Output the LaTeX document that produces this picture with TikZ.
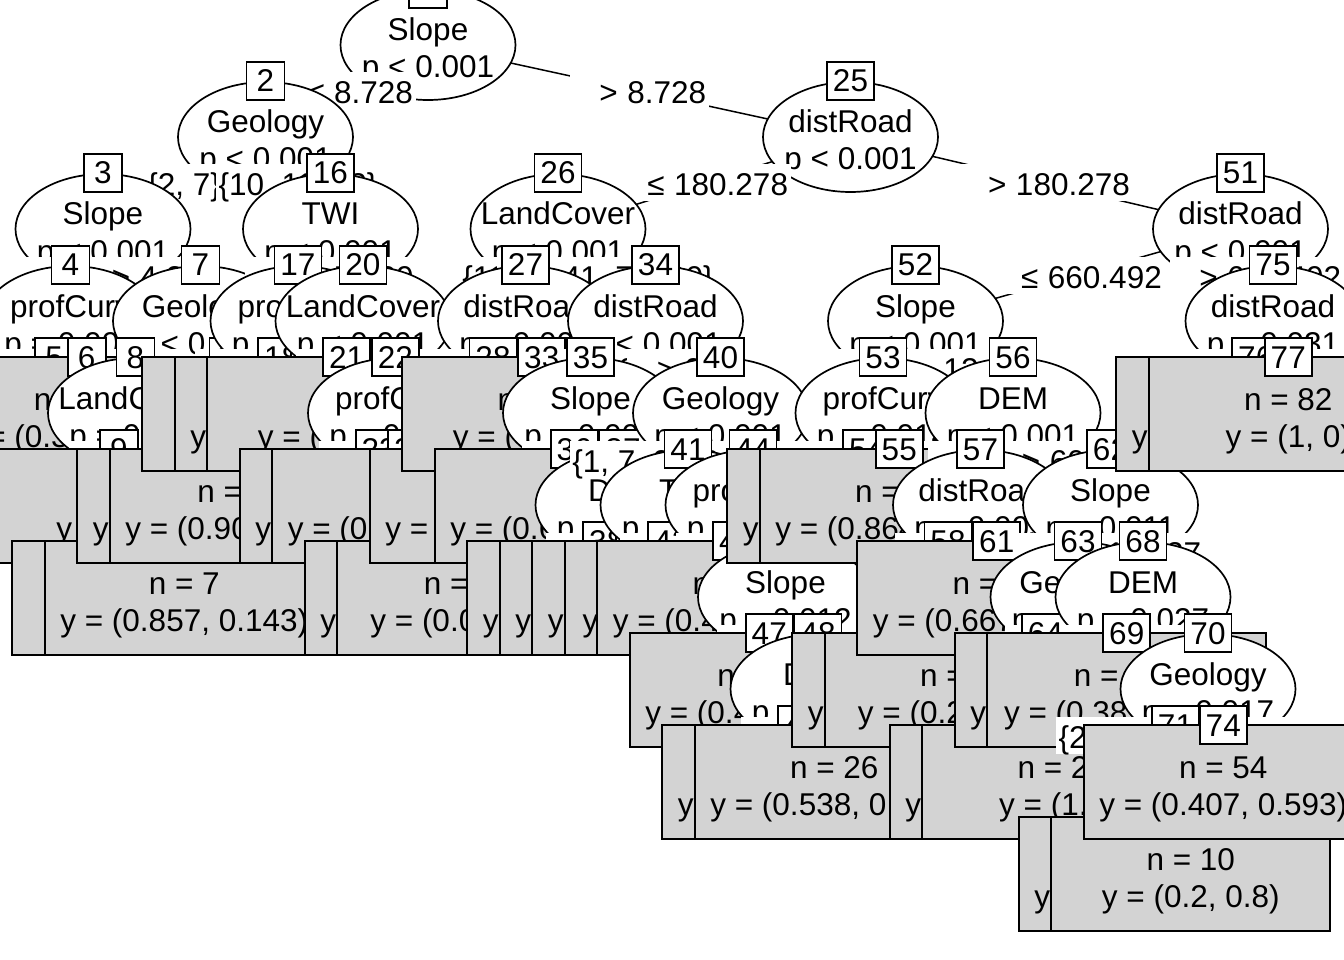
\documentclass[tikz,border=0pt]{standalone}
\usepackage{fontspec}
\setmainfont{Liberation Sans}
\usetikzlibrary{shapes.geometric,calc}
\definecolor{lg}{RGB}{211,211,211}
\tikzset{
 ell/.style={ellipse, draw, fill=white, line width=1.7pt, minimum width=175pt, minimum height=110pt, inner sep=0pt},
 txt/.style={anchor=base, inner sep=0pt},
 idbox/.style={draw, fill=white, line width=1.7pt, minimum height=38pt, minimum width=38pt, inner xsep=6pt, inner ysep=0pt, text height=22pt, text depth=0pt},
 leafbox/.style={draw, fill=lg, line width=1.7pt, minimum width=279pt, minimum height=114pt, inner sep=0pt},
 lab/.style={fill=white, inner xsep=2.5pt, inner ysep=0pt, minimum height=37pt, text height=26pt, text depth=0pt},
 edge/.style={line width=1.5pt},
}
\newcommand\LEQ[1]{\hphantom{0}\hspace{.3em}≤\hspace{.3em}#1}
\newcommand\GTR[1]{\hphantom{0}\hspace{.3em}>\hspace{.3em}#1}
% inner node: id, kid1, kid2, variable, p-value, label1, label2
\newcommand\Inner[7]{%
 \draw[edge] (c#1) -- (c#2);
 \draw[edge] (c#1) -- (c#3);
 \node[ell] (e#1) at (c#1) {};
 \node[txt] at ($(c#1)+(0,-4)$) {#4};
 \node[txt] at ($(c#1)+(0,33)$) {#5};
 \node[idbox] (i#1) at ($(c#1)+(0,-56)$) {#1};
 \node[lab] (l#1x#2) at ($(c#1)!.5!(c#2)$) {#6};
 \node[lab] (l#1x#3) at ($(c#1)!.5!(c#3)$) {#7};
}
\newcommand\Leaf[3]{%
 \node[leafbox] (t#1) at ($(c#1)+(0,1)$) {};
 \node[txt] at ($(c#1)+(0,-3)$) {n = #2};
 \node[txt] at ($(c#1)+(0,34)$) {y = #3};
 \node[idbox] (i#1) at ($(c#1)+(0,-56)$) {#1};
}
\begin{document}
\begin{tikzpicture}[x=1pt,y=-1pt,font=\fontsize{31.5}{37}\selectfont]
\useasboundingbox (0,0) rectangle (1344,960);
\clip (0,0) rectangle (1344,960);
\fill[white] (0,0) rectangle (1344,960);
\coordinate (c1) at (428,45);
\coordinate (c2) at (265.5,137);
\coordinate (c3) at (103,229);
\coordinate (c4) at (70.5,321);
\coordinate (c5) at (54.25,413);
\coordinate (c6) at (86.75,413);
\coordinate (c7) at (200.5,321);
\coordinate (c8) at (135.5,413);
\coordinate (c9) at (119,505);
\coordinate (c10) at (168,505);
\coordinate (c11) at (151.75,597);
\coordinate (c12) at (184.25,597);
\coordinate (c13) at (233,413);
\coordinate (c14) at (216.75,505);
\coordinate (c15) at (249.25,505);
\coordinate (c16) at (330.5,229);
\coordinate (c17) at (298,321);
\coordinate (c18) at (281.75,413);
\coordinate (c19) at (314.25,413);
\coordinate (c20) at (363,321);
\coordinate (c21) at (346.75,413);
\coordinate (c22) at (395.5,413);
\coordinate (c23) at (379.25,505);
\coordinate (c24) at (411.75,505);
\coordinate (c25) at (850.5,137);
\coordinate (c26) at (558,229);
\coordinate (c27) at (525.5,321);
\coordinate (c28) at (493,413);
\coordinate (c29) at (460.5,505);
\coordinate (c30) at (444.25,597);
\coordinate (c31) at (476.75,597);
\coordinate (c32) at (509.25,505);
\coordinate (c33) at (541.75,413);
\coordinate (c34) at (655.5,321);
\coordinate (c35) at (590.5,413);
\coordinate (c36) at (574.25,505);
\coordinate (c37) at (623,505);
\coordinate (c38) at (606.75,597);
\coordinate (c39) at (639.25,597);
\coordinate (c40) at (720.5,413);
\coordinate (c41) at (688,505);
\coordinate (c42) at (671.75,597);
\coordinate (c43) at (704.25,597);
\coordinate (c44) at (753,505);
\coordinate (c45) at (736.75,597);
\coordinate (c46) at (785.5,597);
\coordinate (c47) at (769.25,689);
\coordinate (c48) at (818,689);
\coordinate (c49) at (801.75,781);
\coordinate (c50) at (834.25,781);
\coordinate (c51) at (1240.5,229);
\coordinate (c52) at (915.5,321);
\coordinate (c53) at (883,413);
\coordinate (c54) at (866.75,505);
\coordinate (c55) at (899.25,505);
\coordinate (c56) at (1013,413);
\coordinate (c57) at (980.5,505);
\coordinate (c58) at (948,597);
\coordinate (c59) at (931.75,689);
\coordinate (c60) at (964.25,689);
\coordinate (c61) at (996.75,597);
\coordinate (c62) at (1110.5,505);
\coordinate (c63) at (1078,597);
\coordinate (c64) at (1045.5,689);
\coordinate (c65) at (1029.25,781);
\coordinate (c66) at (1061.75,781);
\coordinate (c67) at (1094.25,689);
\coordinate (c68) at (1143,597);
\coordinate (c69) at (1126.75,689);
\coordinate (c70) at (1208,689);
\coordinate (c71) at (1175.5,781);
\coordinate (c72) at (1158.25,873);
\coordinate (c73) at (1190.75,873);
\coordinate (c74) at (1223.25,781);
\coordinate (c75) at (1273,321);
\coordinate (c76) at (1255.75,413);
\coordinate (c77) at (1288.25,413);
% ---- root and left subtree
\Inner{1}{2}{25}{Slope}{p < 0.001}{\LEQ{8.728}}{\GTR{8.728}}
\Inner{2}{3}{16}{Geology}{p < 0.001}{\{2, 7\}}{\{10, 11, 12\}}
\Inner{3}{4}{7}{Slope}{p < 0.001}{\LEQ{4.366}}{\GTR{4.366}}
\Inner{4}{5}{6}{profCurv}{p = 0.003}{\LEQ{0.002}}{\GTR{0.002}}
\Leaf{5}{15}{(0.2, 0.8)}
\Leaf{6}{104}{(0.308, 0.692)}
\Inner{7}{8}{13}{Geology}{p < 0.001}{\{2\}}{\{7\}}
\Inner{8}{9}{10}{LandCover}{p = 0.009}{\{41, 52\}}{\{21, 42, 81\}}
\Leaf{9}{6}{(1, 0)}
\Inner{10}{11}{12}{Slope}{p = 0.041}{\LEQ{6.35}}{\GTR{6.35}}
\Leaf{11}{4}{(0.25, 0.75)}
\Leaf{12}{7}{(0.857, 0.143)}
\Inner{13}{14}{15}{DEM}{p = 0.034}{\LEQ{412.5}}{\GTR{412.5}}
\Leaf{14}{6}{(0.833, 0.167)}
\Leaf{15}{110}{(0.909, 0.091)}
\Inner{16}{17}{20}{TWI}{p < 0.001}{\LEQ{7.839}}{\GTR{7.839}}
\Inner{17}{18}{19}{profCurv}{p = 0.004}{\LEQ{-0.001}}{\GTR{-0.001}}
\Leaf{18}{10}{(0.5, 0.5)}
\Leaf{19}{8}{(0.125, 0.875)}
\Inner{20}{21}{22}{LandCover}{p < 0.001}{\{11, 21\}}{\{41, 42, 90\}}
\Leaf{21}{5}{(0.8, 0.2)}
\Inner{22}{23}{24}{profCurv}{p = 0.021}{\LEQ{0.001}}{\GTR{0.001}}
\Leaf{23}{9}{(0.333, 0.667)}
\Leaf{24}{14}{(0.071, 0.929)}
% ---- right subtree
\Inner{25}{26}{51}{distRoad}{p < 0.001}{\LEQ{180.278}}{\GTR{180.278}}
\Inner{26}{27}{34}{LandCover}{p < 0.001}{\{11, 52, 81\}}{\{21, 41, 71, 90\}}
\Inner{27}{28}{33}{distRoad}{p = 0.002}{\LEQ{62.5}}{\GTR{62.5}}
\Inner{28}{29}{32}{TWI}{p = 0.013}{\LEQ{9.12}}{\GTR{9.12}}
\Inner{29}{30}{31}{DEM}{p = 0.028}{\LEQ{388.2}}{\GTR{388.2}}
\Leaf{30}{9}{(0.333, 0.667)}
\Leaf{31}{120}{(0.05, 0.95)}
\Leaf{32}{9}{(0.556, 0.444)}
\Leaf{33}{10}{(0.1, 0.9)}
\Inner{34}{35}{40}{distRoad}{p < 0.001}{\LEQ{95.3}}{\GTR{95.3}}
\Inner{35}{36}{37}{Slope}{p = 0.002}{\LEQ{14.1}}{\GTR{14.1}}
\Leaf{36}{8}{(0.625, 0.375)}
\Inner{37}{38}{39}{DEM}{p = 0.019}{\LEQ{455.6}}{\GTR{455.6}}
\Leaf{38}{7}{(0.143, 0.857)}
\Leaf{39}{6}{(0.333, 0.667)}
\Inner{40}{41}{44}{Geology}{p < 0.001}{\{1, 7, 9, 10, 11, 13\}}{\{2, 12\}}
\Inner{41}{42}{43}{TWI}{p = 0.006}{\LEQ{6.93}}{\GTR{6.93}}
\Leaf{42}{7}{(0.571, 0.429)}
\Leaf{43}{9}{(0.111, 0.889)}
\Inner{44}{45}{46}{profCurv}{p = 0.004}{\LEQ{0.003}}{\GTR{0.003}}
\Leaf{45}{12}{(0.417, 0.583)}
\Inner{46}{47}{48}{Slope}{p = 0.012}{\LEQ{9.81}}{\GTR{9.81}}
\Leaf{47}{110}{(0.455, 0.545)}
\Inner{48}{49}{50}{DEM}{p = 0.038}{\LEQ{520.4}}{\GTR{520.4}}
\Leaf{49}{8}{(0.875, 0.125)}
\Leaf{50}{26}{(0.538, 0.462)}
\Inner{51}{52}{75}{distRoad}{p < 0.001}{\LEQ{660.492}}{\GTR{660.492}}
\Inner{52}{53}{56}{Slope}{p < 0.001}{\LEQ{12.402}}{\GTR{12.402}}
\Inner{53}{54}{55}{profCurv}{p = 0.014}{\LEQ{0.002}}{\GTR{0.002}}
\Leaf{54}{13}{(0.385, 0.615)}
\Leaf{55}{22}{(0.864, 0.136)}
\Inner{56}{57}{62}{DEM}{p < 0.001}{\LEQ{605.3}}{\GTR{605.3}}
\Inner{57}{58}{61}{distRoad}{p = 0.003}{\LEQ{402.1}}{\GTR{402.1}}
\Inner{58}{59}{60}{Slope}{p = 0.025}{\LEQ{18.6}}{\GTR{18.6}}
\Leaf{59}{6}{(0.667, 0.333)}
\Leaf{60}{12}{(0.25, 0.75)}
\Leaf{61}{18}{(0.667, 0.333)}
\Inner{62}{63}{68}{Slope}{p = 0.011}{\LEQ{11.527}}{\GTR{11.527}}
\Inner{63}{64}{67}{Geology}{p = 0.008}{\{1, 2, 7\}}{\{10, 12\}}
\Inner{64}{65}{66}{DEM}{p = 0.044}{\LEQ{688.4}}{\GTR{688.4}}
\Leaf{65}{7}{(0.571, 0.429)}
\Leaf{66}{21}{(1, 0)}
\Leaf{67}{9}{(0.222, 0.778)}
\Inner{68}{69}{70}{DEM}{p = 0.027}{\LEQ{741.9}}{\GTR{741.9}}
\Leaf{69}{108}{(0.389, 0.611)}
\Inner{70}{71}{74}{Geology}{p = 0.017}{\{2, 3, 4, 5, 8, 9, 10\}}{\{1, 7\}}
\Inner{71}{72}{73}{LandCover}{p = 0.035}{\{41, 81\}}{\{21, 42, 52\}}
\Leaf{72}{8}{(0.625, 0.375)}
\Leaf{73}{10}{(0.2, 0.8)}
\Leaf{74}{54}{(0.407, 0.593)}
\Inner{75}{76}{77}{distRoad}{p = 0.031}{\LEQ{952.8}}{\GTR{952.8}}
\Leaf{76}{11}{(0.818, 0.182)}
\Leaf{77}{82}{(1, 0)}
\end{tikzpicture}
\end{document}
